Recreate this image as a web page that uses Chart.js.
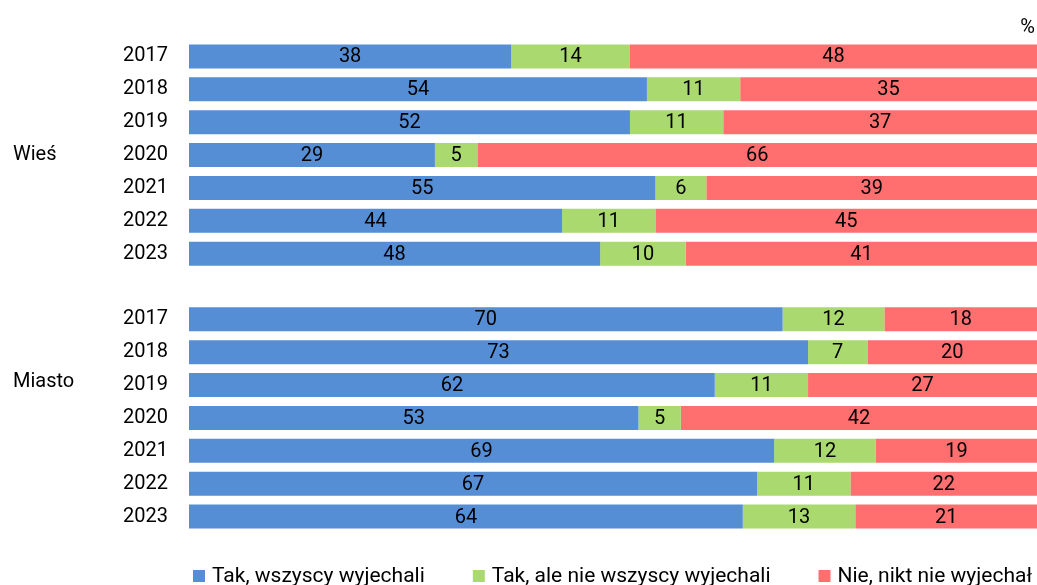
<!DOCTYPE html>
<html>
<head>
<meta charset="utf-8">
<script src="https://cdn.jsdelivr.net/npm/chart.js@4"></script>
<style>
  html, body { margin: 0; padding: 0; background: #fff; overflow: hidden; }
</style>
</head>
<body>
<canvas id="chart" width="1037" height="585"></canvas>
<script>
const years = ['2017', '2018', '2019', '2020', '2021', '2022', '2023'];
const groups = ['Wieś', 'Miasto'];
const seriesNames = ['Tak, wszyscy wyjechali', 'Tak, ale nie wszyscy wyjechali', 'Nie, nikt nie wyjechał'];
const colors = ['#558ED5', '#A9D96F', '#FF6F6F'];

const wiesAll = [38, 54, 52, 29, 55, 44, 48];
const wiesPart = [14, 11, 11, 5, 6, 11, 10];
const wiesNone = [48, 35, 37, 66, 39, 45, 41];

const miastoAll = [70, 73, 62, 53, 69, 67, 64];
const miastoPart = [12, 7, 11, 5, 12, 11, 13];
const miastoNone = [18, 20, 27, 42, 19, 22, 21];

// one empty row between the two groups
const labels = [...years, '', ...years];
const raw = [
    [...wiesAll, null, ...miastoAll],
    [...wiesPart, null, ...miastoPart],
    [...wiesNone, null, ...miastoNone]
];
const totals = labels.map((_, j) => raw.reduce((s, r) => s + (r[j] || 0), 0));

const datasets = seriesNames.map((name, i) => ({
    label: name,
    data: raw[i].map((v, j) => v == null ? null : v / totals[j] * 100),
    backgroundColor: colors[i],
    borderWidth: 0,
    barPercentage: 0.73,
    categoryPercentage: 1
}));

const valueLabels = {
    id: 'valueLabels',
    afterDatasetsDraw(chart) {
        const ctx = chart.ctx;
        ctx.save();
        ctx.font = '20px Roboto';
        ctx.fillStyle = '#000';
        ctx.textAlign = 'center';
        ctx.textBaseline = 'middle';
        chart.data.datasets.forEach((ds, i) => {
            chart.getDatasetMeta(i).data.forEach((bar, j) => {
                const v = raw[i][j];
                if (v == null) return;
                const p = bar.getCenterPoint();
                ctx.fillText(String(v), p.x, p.y + 1);
            });
        });
        ctx.restore();
    }
};

// group names, % sign and the legend row at the bottom
const extraText = {
    id: 'extraText',
    afterDraw(chart) {
        const ctx = chart.ctx;
        const y = chart.scales.y;
        ctx.save();
        ctx.font = '20px Roboto';
        ctx.fillStyle = '#000';
        ctx.textBaseline = 'middle';
        ctx.textAlign = 'left';
        ctx.fillText(groups[0], 13, y.getPixelForValue(3));
        ctx.fillText(groups[1], 13, y.getPixelForValue(10) - 3);
        ctx.textAlign = 'right';
        ctx.fillText('%', 1035, 28);

        ctx.font = '21px Roboto';
        ctx.textAlign = 'left';
        ctx.textBaseline = 'alphabetic';
        let x = 193;
        chart.data.datasets.forEach(ds => {
            ctx.fillStyle = ds.backgroundColor;
            ctx.fillRect(x, 570, 12, 12);
            ctx.fillStyle = '#000';
            ctx.fillText(ds.label, x + 19, 582);
            x += 19 + ctx.measureText(ds.label).width + 48;
        });
        ctx.restore();
    }
};

new Chart(document.getElementById('chart'), {
    type: 'bar',
    data: { labels: labels, datasets: datasets },
    options: {
        indexAxis: 'y',
        responsive: false,
        animation: false,
        layout: { padding: { top: 40, left: 0, right: 0, bottom: 52 } },
        scales: {
            x: { stacked: true, min: 0, max: 100, display: false },
            y: {
                stacked: true,
                grid: { display: false, drawTicks: false },
                border: { display: false },
                ticks: { color: '#000', font: { family: 'Roboto', size: 20 }, padding: 21 },
                afterFit(scale) { scale.width = 189; }
            }
        },
        plugins: {
            legend: { display: false },
            tooltip: { enabled: false }
        }
    },
    plugins: [valueLabels, extraText]
});
</script>
</body>
</html>
